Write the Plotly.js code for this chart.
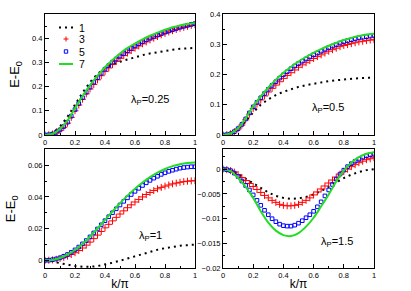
<!DOCTYPE html>
<html>
<head>
<meta charset="utf-8">
<script src="https://cdn.plot.ly/plotly-3.0.1.min.js"></script>
<style>html,body{margin:0;padding:0;background:#fff;}#chart{width:411px;height:291px;}</style>
</head>
<body>
<div id="chart"></div>
<script>
// ---- data ----
const kFine = [0,0.025,0.05,0.075,0.1,0.125,0.15,0.175,0.2,0.225,0.25,0.275,0.3,0.325,0.35,0.375,0.4,0.425,0.45,0.475,0.5,0.525,0.55,0.575,0.6,0.625,0.65,0.675,0.7,0.725,0.75,0.775,0.8,0.825,0.85,0.875,0.9,0.925,0.95,0.975,1];
const kCoarse = [0,0.05,0.1,0.15,0.2,0.25,0.3,0.35,0.4,0.45,0.5,0.55,0.6,0.65,0.7,0.75,0.8,0.85,0.9,0.95,1];
const seriesNames = ["1","3","5","7"];
const panelLabels = ["0.25","0.5","1","1.5"];
const xTicks = [0,0.2,0.4,0.6,0.8,1];

// lambda_P = 0.25
const a_n1 = [0,0.008,0.035,0.075,0.125,0.175,0.218,0.252,0.276,0.292,0.303,0.313,0.322,0.33,0.337,0.343,0.348,0.352,0.356,0.358,0.36];
const a_n3 = [0,0.001,0.004,0.01,0.019,0.032,0.049,0.073,0.1,0.124,0.148,0.17,0.19,0.209,0.228,0.245,0.262,0.277,0.291,0.304,0.317,0.328,0.339,0.349,0.359,0.368,0.377,0.385,0.393,0.4,0.407,0.414,0.42,0.426,0.431,0.436,0.441,0.445,0.449,0.453,0.456];
const a_n5 = [0,0.001,0.004,0.011,0.021,0.035,0.053,0.078,0.105,0.13,0.154,0.177,0.198,0.218,0.237,0.255,0.272,0.287,0.301,0.314,0.326,0.337,0.348,0.358,0.368,0.377,0.385,0.393,0.4,0.407,0.413,0.419,0.425,0.43,0.435,0.44,0.445,0.449,0.453,0.457,0.46];
const a_n7 = [0,0.005,0.025,0.06,0.11,0.16,0.205,0.245,0.28,0.31,0.337,0.36,0.378,0.395,0.41,0.423,0.435,0.445,0.453,0.459,0.462];

// lambda_P = 0.5
const b_n1 = [0,0.005,0.02,0.045,0.075,0.1,0.118,0.132,0.143,0.152,0.159,0.165,0.17,0.174,0.178,0.181,0.184,0.186,0.188,0.189,0.19];
const b_n3 = [0,0.001,0.004,0.011,0.02,0.033,0.05,0.069,0.088,0.102,0.116,0.129,0.142,0.154,0.165,0.176,0.187,0.197,0.206,0.215,0.224,0.232,0.239,0.246,0.253,0.259,0.265,0.271,0.277,0.282,0.287,0.292,0.296,0.299,0.302,0.305,0.308,0.31,0.312,0.314,0.315];
const b_n5 = [0,0.001,0.004,0.011,0.021,0.035,0.053,0.073,0.093,0.108,0.123,0.137,0.151,0.164,0.176,0.188,0.199,0.209,0.219,0.228,0.236,0.244,0.251,0.258,0.265,0.271,0.277,0.283,0.289,0.294,0.299,0.304,0.308,0.312,0.315,0.318,0.321,0.323,0.325,0.327,0.329];
const b_n7 = [0,0.005,0.022,0.055,0.096,0.128,0.157,0.183,0.206,0.225,0.243,0.258,0.272,0.284,0.295,0.305,0.314,0.321,0.327,0.332,0.335];

// lambda_P = 1
const c_n1 = [0,-0.0006,-0.0018,-0.0029,-0.0036,-0.004,-0.0041,-0.0036,-0.0027,-0.0015,-0.0002,0.0012,0.0027,0.0043,0.0057,0.0067,0.0077,0.0085,0.0092,0.0096,0.0099];
const c_n3 = [0,0.0001,0.0003,0.0007,0.0012,0.0019,0.0027,0.0037,0.0048,0.0062,0.0078,0.0096,0.0115,0.0137,0.0159,0.0182,0.0205,0.0227,0.0249,0.0271,0.0292,0.0312,0.0332,0.035,0.0368,0.0384,0.04,0.0415,0.0428,0.044,0.0451,0.046,0.0468,0.0475,0.0482,0.0487,0.0492,0.0496,0.0499,0.0501,0.0502];
const c_n5 = [0,0.0001,0.0004,0.0009,0.0016,0.0026,0.0037,0.0051,0.0066,0.0084,0.0104,0.0125,0.0148,0.0173,0.0198,0.0224,0.025,0.0275,0.03,0.0325,0.0349,0.0372,0.0394,0.0415,0.0435,0.0454,0.0472,0.0489,0.0504,0.0518,0.053,0.0542,0.0552,0.0561,0.0568,0.0575,0.0581,0.0585,0.0588,0.059,0.059];
const c_n7 = [0,0.0003,0.0015,0.0037,0.0065,0.0103,0.015,0.0201,0.0255,0.0308,0.036,0.0408,0.0452,0.0491,0.0525,0.0553,0.0576,0.0594,0.0606,0.0614,0.0617];

// lambda_P = 1.5
const d_n1 = [0,-0.0003,-0.001,-0.0019,-0.0028,-0.0038,-0.0047,-0.0054,-0.0058,-0.006,-0.0059,-0.0056,-0.0051,-0.0044,-0.0036,-0.0027,-0.0018,-0.0011,-0.0006,-0.0002,0];
const d_n3 = [0,-0.0001,-0.0003,-0.0006,-0.0011,-0.0017,-0.0023,-0.0029,-0.0035,-0.0041,-0.0047,-0.0053,-0.0058,-0.0063,-0.0067,-0.0071,-0.0073,-0.0074,-0.0074,-0.0073,-0.0071,-0.0067,-0.0063,-0.0058,-0.0052,-0.0046,-0.004,-0.0034,-0.0028,-0.0022,-0.0016,-0.001,-0.0005,0,0.0005,0.0009,0.0013,0.0016,0.0019,0.0021,0.0023];
const d_n5 = [0,-0.0001,-0.0003,-0.0008,-0.0015,-0.0024,-0.0033,-0.0042,-0.0052,-0.0063,-0.0073,-0.0083,-0.0092,-0.01,-0.0106,-0.0111,-0.0114,-0.0115,-0.0115,-0.0113,-0.0109,-0.0104,-0.0098,-0.0092,-0.0085,-0.0076,-0.0066,-0.0054,-0.0042,-0.0031,-0.002,-0.001,-0.0002,0.0005,0.0011,0.0016,0.002,0.0024,0.0027,0.0029,0.003];
const d_n7 = [0,-0.0004,-0.0018,-0.0036,-0.0058,-0.0085,-0.0108,-0.0124,-0.0133,-0.0135,-0.0129,-0.0116,-0.0098,-0.0075,-0.0051,-0.0025,-0.0003,0.0013,0.0024,0.0031,0.0034];

// ---- styling ----
const W = 411, H = 291;
const FONT = "Liberation Sans, Arial, Helvetica, sans-serif";
const RED = "#ff0000", BLUE = "#0000ff", GREEN = "#22dd22", BLACK = "#000000";

const panels = [
  {n1:a_n1, n3:a_n3, n5:a_n5, n7:a_n7, xa:"x",  ya:"y"},
  {n1:b_n1, n3:b_n3, n5:b_n5, n7:b_n7, xa:"x2", ya:"y2"},
  {n1:c_n1, n3:c_n3, n5:c_n5, n7:c_n7, xa:"x3", ya:"y3"},
  {n1:d_n1, n3:d_n3, n5:d_n5, n7:d_n7, xa:"x4", ya:"y4"}
];

const traces = [];
panels.forEach(p => {
  traces.push({x:kCoarse, y:p.n1, xaxis:p.xa, yaxis:p.ya, name:seriesNames[0], mode:"lines", showlegend:false,
    line:{color:BLACK, width:2, dash:"2px,4px"}});
  traces.push({x:kFine, y:p.n3, xaxis:p.xa, yaxis:p.ya, name:seriesNames[1], mode:"markers", showlegend:false,
    marker:{symbol:"cross-thin-open", size:5, color:RED, line:{color:RED, width:1}}});
  traces.push({x:kFine, y:p.n5, xaxis:p.xa, yaxis:p.ya, name:seriesNames[2], mode:"markers", showlegend:false,
    marker:{symbol:"square-open", size:3.6, color:BLUE, line:{color:BLUE, width:1}}});
  traces.push({x:kCoarse, y:p.n7, xaxis:p.xa, yaxis:p.ya, name:seriesNames[3], mode:"lines", showlegend:false,
    line:{color:GREEN, width:2, shape:"spline"}});
});

const leftDom = [45/W, 195/W], rightDom = [223/W, 374/W];
const topDom = [1-135/H, 1-14/H], botDom = [1-268.3/H, 1-149.3/H];
const tickFont = {family:FONT, size:7.5, color:"#000"};

function xax(dom, anchor, withTitle){
  const a = {domain:dom, anchor:anchor, range:[0,1], tickvals:xTicks, ticks:"inside", ticklen:4, tickwidth:1,
    tickcolor:"#000", showline:true, linecolor:"#000", linewidth:1, mirror:true, showgrid:false, zeroline:false,
    tickfont:tickFont, minor:{ticks:"inside", ticklen:2, dtick:0.1, tickcolor:"#000"}};
  if (withTitle) a.title = {text:"k/π", font:{family:FONT, size:12, color:"#000"}, standoff:2};
  return a;
}
function yax(dom, anchor, range, dtick, tickvals, minorD, withTitle){
  const a = {domain:dom, anchor:anchor, range:range, ticks:"inside", ticklen:4, tickwidth:1,
    tickcolor:"#000", showline:true, linecolor:"#000", linewidth:1, mirror:true, showgrid:false, zeroline:false,
    tickfont:tickFont, minor:{ticks:"inside", ticklen:2, dtick:minorD, tickcolor:"#000"}};
  if (tickvals) a.tickvals = tickvals; else { a.dtick = dtick; a.tick0 = 0; }
  if (withTitle) a.title = {text:"E-E<sub>0</sub>", font:{family:FONT, size:13, color:"#000"}, standoff:9};
  return a;
}

function px(x){ return x/W; }
function py(y){ return 1 - y/H; }

const annFont = {family:FONT, size:11, color:"#000"};
const annotations = [
  {xref:"x",  yref:"y",  x:0.70, y:0.145,   text:"λ<sub>P</sub>=" + panelLabels[0], showarrow:false, font:annFont},
  {xref:"x2", yref:"y2", x:0.695, y:0.089,  text:"λ<sub>P</sub>=" + panelLabels[1], showarrow:false, font:annFont},
  {xref:"x3", yref:"y3", x:0.70, y:0.0152,  text:"λ<sub>P</sub>=" + panelLabels[2], showarrow:false, font:annFont},
  {xref:"x4", yref:"y4", x:0.755, y:-0.0147,text:"λ<sub>P</sub>=" + panelLabels[3], showarrow:false, font:annFont}
];
const legFont = {family:FONT, size:10.5, color:"#000"};
const legRows = [27.5, 39.5, 51.5, 63.5];
seriesNames.forEach((s,i) => {
  annotations.push({xref:"paper", yref:"paper", x:px(78), y:py(legRows[i]), xanchor:"left", yanchor:"middle",
    text:s, showarrow:false, font:legFont, borderpad:0});
});

const shapes = [
  {type:"line", xref:"paper", yref:"paper", x0:px(59), x1:px(73), y0:py(legRows[0]), y1:py(legRows[0]),
    line:{color:BLACK, width:2, dash:"2px,4px"}},
  {type:"line", xref:"paper", yref:"paper", x0:px(63.5), x1:px(68.5), y0:py(legRows[1]-0.5), y1:py(legRows[1]-0.5), line:{color:RED, width:1}},
  {type:"line", xref:"paper", yref:"paper", x0:px(66), x1:px(66), y0:py(legRows[1]-3), y1:py(legRows[1]+2), line:{color:RED, width:1}},
  {type:"rect", xref:"paper", yref:"paper", x0:px(64.3), x1:px(67.7), y0:py(legRows[2]-1.7), y1:py(legRows[2]+1.7), line:{color:BLUE, width:1}},
  {type:"line", xref:"paper", yref:"paper", x0:px(59), x1:px(73), y0:py(legRows[3]+0.5), y1:py(legRows[3]+0.5), line:{color:GREEN, width:2}}
];

const layout = {
  width:W, height:H, margin:{l:0, r:0, t:0, b:0}, paper_bgcolor:"#fff", plot_bgcolor:"#fff",
  font:{family:FONT, color:"#000"}, showlegend:false,
  xaxis: xax(leftDom, "y", false),
  yaxis: yax(topDom, "x", [0,0.5], null, [0,0.1,0.2,0.3,0.4], 0.05, true),
  xaxis2: xax(rightDom, "y2", false),
  yaxis2: yax(topDom, "x2", [0,0.4], 0.1, null, 0.05, false),
  xaxis3: xax(leftDom, "y3", true),
  yaxis3: yax(botDom, "x3", [-0.005,0.07], 0.02, null, 0.01, true),
  xaxis4: xax(rightDom, "y4", true),
  yaxis4: yax(botDom, "x4", [-0.02,0.004], 0.005, null, 0.0025, false),
  annotations: annotations, shapes: shapes
};

Plotly.newPlot("chart", traces, layout, {staticPlot:true, displayModeBar:false});
</script>
</body>
</html>
